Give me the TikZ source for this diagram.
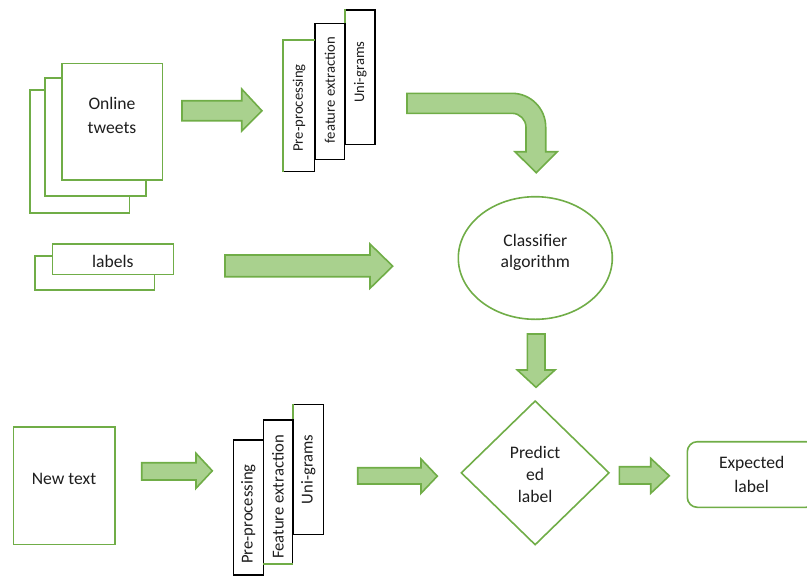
\documentclass[tikz,border=0pt]{standalone}
\usepackage{fontspec}
\setmainfont{Carlito}
\usetikzlibrary{shapes.geometric}
\definecolor{gborder}{RGB}{112,173,71}
\definecolor{gfill}{RGB}{169,209,142}
\definecolor{txt}{RGB}{30,30,30}
\begin{document}
\begin{tikzpicture}[x=0.75pt,y=-0.75pt,
  gbox/.style={draw=gborder, line width=1.2pt, fill=white, inner sep=0pt},
  kbox/.style={draw=black, line width=0.8pt, fill=white, inner sep=0pt},
  sz/.style 2 args={minimum width=#1*0.75pt, minimum height=#2*0.75pt},
  txtn/.style={font=\fontsize{13.2}{16.5}\selectfont, text=txt, align=center, inner sep=0pt},
  vtxtA/.style={rotate=90, text=txt, inner sep=0pt, font=\fontsize{11}{13}\selectfont},
  vtxtB/.style={rotate=90, text=txt, inner sep=0pt, font=\fontsize{12.5}{15}\selectfont},
  barrow/.style={draw=gborder, fill=gfill, line width=1.2pt, line join=miter},
  gline/.style={draw=gborder, line width=1.2pt}
]
\useasboundingbox (0,0) rectangle (807,576);
\clip (0,0) rectangle (807,576);

% Online tweets stack
\node[gbox, sz={99.3}{122.7}] (tw3) at (79.65,151.35) {};
\node[gbox, sz={101}{118}] (tw2) at (95.5,136.7) {};
\node[gbox, sz={100.6}{116.7}] (tw1) at (112,121.65) {};
\node[txtn, font=\fontsize{13.2}{18}\selectfont] (twt) at (112,115) {Online\\tweets};

% arrow 1
\draw[barrow] (182,100.7) -- (241.7,100.7) -- (241.7,89) -- (262,110.85) -- (241.7,131) -- (241.7,120.7) -- (182,120.7) -- cycle;

% top processing column
\node[kbox, sz={31}{131}] (pp1) at (299,106.2) {};
\node[kbox, sz={29.5}{136}] (fe1) at (329.75,91.3) {};
\node[kbox, sz={29.5}{134.3}] (ug1) at (360.25,77.15) {};
\draw[gline] (pp1.south west) -- (pp1.north west) -- (pp1.north east);
\draw[gline] (ug1.north west) -- (ug1.west |- fe1.north);
\node[vtxtA] (pp1t) at (299,108) {Pre-processing};
\node[vtxtA] (fe1t) at (329.75,90) {feature extraction};
\node[vtxtA] (ug1t) at (360.25,72) {Uni-grams};

% curved arrow
\draw[barrow] (407,93.3) -- (512,93.3) .. controls (530.6,93.3) and (545.7,108.4) .. (545.7,127)
  -- (545.7,151.7) -- (557.3,151.7) -- (536.2,172.7) -- (515,151.7) -- (526,151.7) -- (526,127.3)
  .. controls (526,119.6) and (519.7,113.3) .. (512,113.3) -- (407,113.3) -- cycle;

% labels stack
\node[gbox, sz={119.3}{34}] (lb2) at (94.65,273) {};
\node[gbox, sz={121}{30.3}] (lb1) at (112.8,259.15) {};
\node[txtn] (lbt) at (112.8,261) {labels};

% arrow 2
\draw[barrow] (225,255) -- (370,255) -- (370,244) -- (392.7,266.15) -- (370,288.3) -- (370,276.7) -- (225,276.7) -- cycle;

% classifier
\node[gbox, ellipse, sz={154}{122.6}] (clf) at (535.3,258) {};
\node[txtn, font=\fontsize{13.2}{16.2}\selectfont] (clft) at (535.3,252.5) {Classifier\\algorithm};

% down arrow
\draw[barrow] (527.3,334) -- (545,334) -- (545,370) -- (555,370) -- (536,387.3) -- (517.3,370) -- (527.3,370) -- cycle;

% diamond
\node[gbox, diamond, sz={148.3}{144.3}] (prd) at (535.15,472.85) {};
\node[txtn, font=\fontsize{13.2}{16.5}\selectfont] (prdt) at (535.15,474.5) {Predict\\ed\\label};

% new text
\node[gbox, sz={101.7}{117.6}] (nt) at (64.15,485.5) {};
\node[txtn] (ntt) at (64,479.3) {New text};

% arrow 3
\draw[barrow] (141.7,462.7) -- (196,462.7) -- (196,453.3) -- (212.3,470.8) -- (196,488.3) -- (196,480) -- (141.7,480) -- cycle;

% bottom processing column
\node[kbox, sz={30}{135}] (pp2) at (248.3,507.5) {};
\node[kbox, sz={29.4}{143.3}] (fe2) at (278,491.65) {};
\node[kbox, sz={30}{130}] (ug2) at (308.3,469.3) {};
\draw[gline] (fe2.south west) -- (fe2.south east);
\draw[gline] (ug2.north west) -- (ug2.west |- fe2.north);
\node[vtxtB] (pp2t) at (248.3,514) {Pre-processing};
\node[vtxtB] (fe2t) at (278,497) {Feature extraction};
\node[vtxtB] (ug2t) at (308.3,469.3) {Uni-grams};

% arrow 4
\draw[barrow] (357.7,467.7) -- (421,467.7) -- (421,459) -- (437.3,476.15) -- (421,493.3) -- (421,484) -- (357.7,484) -- cycle;

% arrow 5
\draw[barrow] (619.3,466.7) -- (650.7,466.7) -- (650.7,458.3) -- (669.3,475.8) -- (650.7,493.3) -- (650.7,484) -- (619.3,484) -- cycle;

% expected label
\node[gbox, rounded corners=7.5pt, sz={128.7}{65.6}] (exp) at (751.65,474.5) {};
\node[txtn, font=\fontsize{13.2}{18}\selectfont] (expt) at (751.7,474.5) {Expected\\label};
\end{tikzpicture}
\end{document}
